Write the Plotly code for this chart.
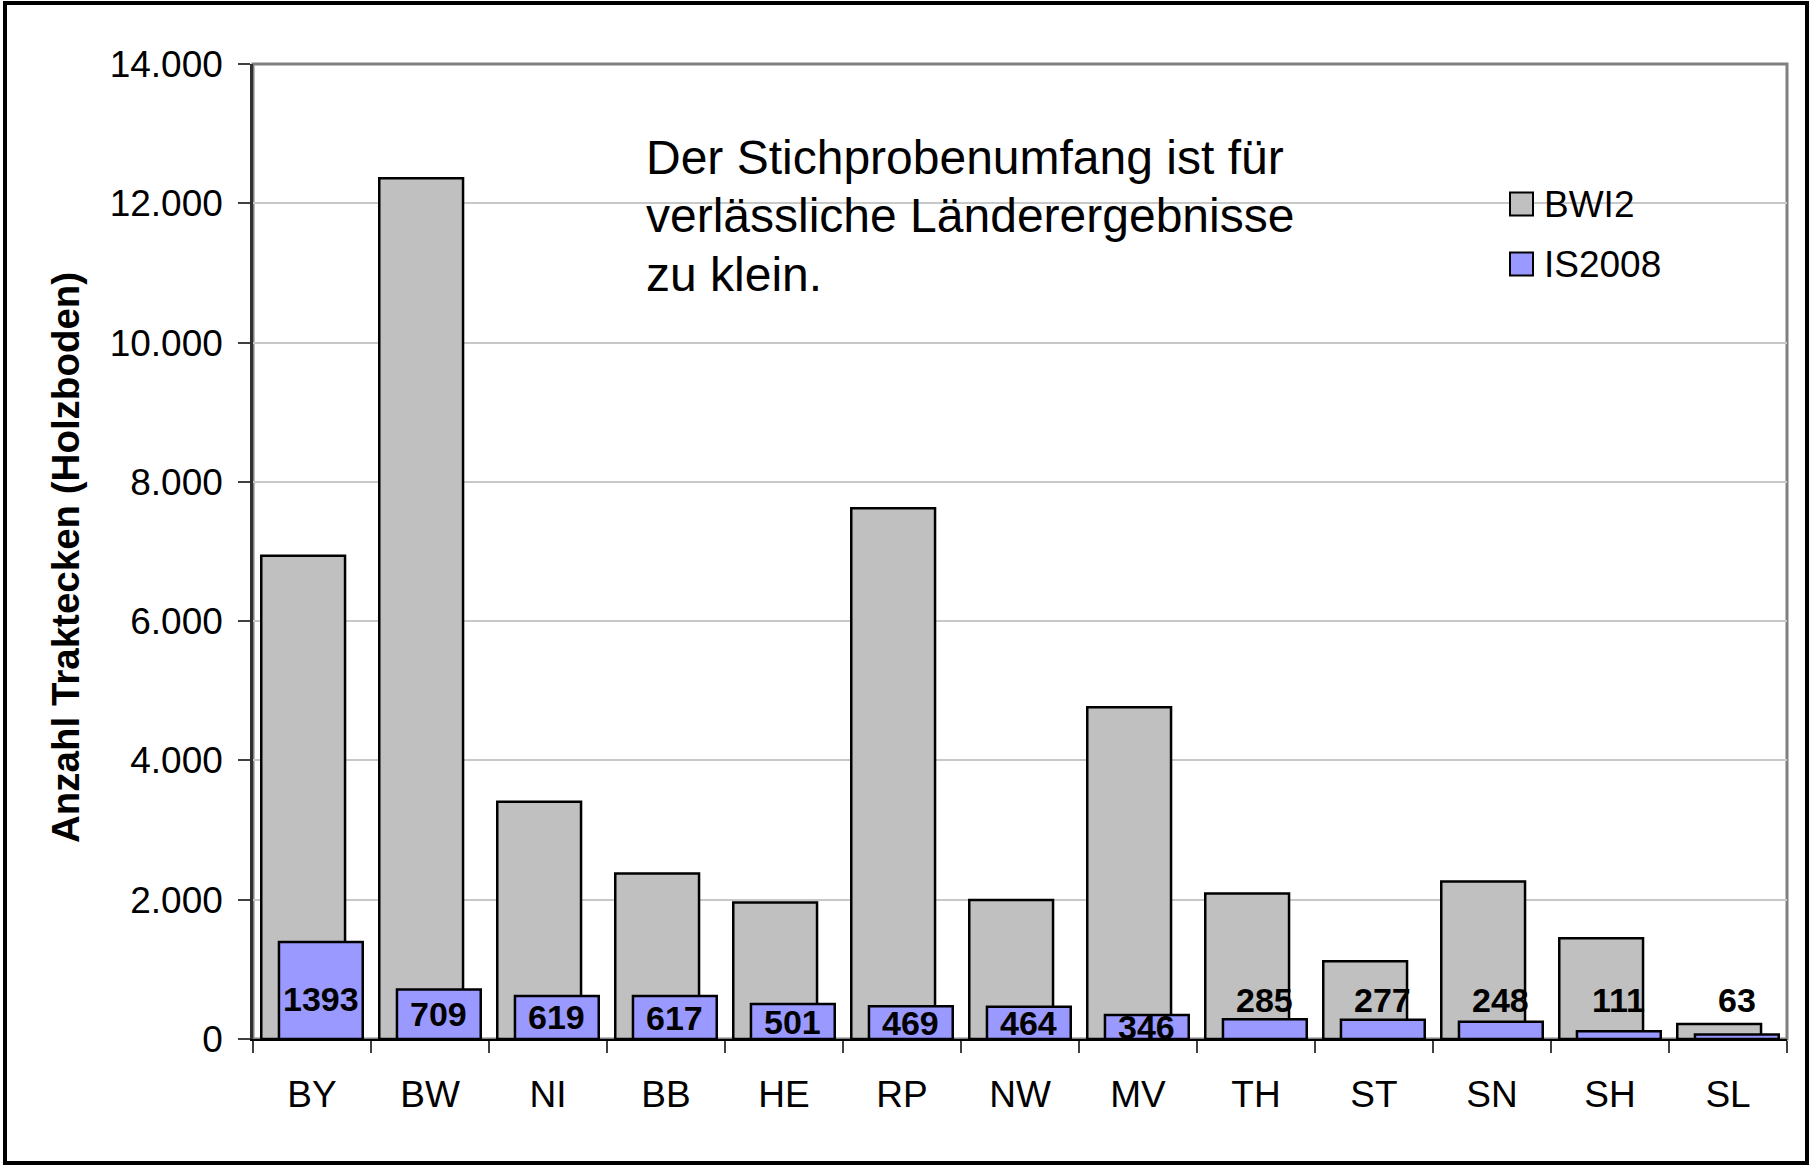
import plotly.graph_objects as go

categories = ["BY", "BW", "NI", "BB", "HE", "RP", "NW", "MV", "TH", "ST", "SN", "SH", "SL"]
bwi2 = [6940, 12360, 3405, 2375, 1960, 7620, 1995, 4765, 2090, 1115, 2260, 1445, 215]
is2008 = [1393, 709, 619, 617, 501, 469, 464, 346, 285, 277, 248, 111, 63]
series_names = ["BWI2", "IS2008"]
series_colors = ["#C0C0C0", "#9999FF"]
y_ticks = [0, 2000, 4000, 6000, 8000, 10000, 12000, 14000]
note_lines = ["Der Stichprobenumfang ist für", "verlässliche Länderergebnisse", "zu klein."]
y_title = "Anzahl Traktecken (Holzboden)"

FIG_W, FIG_H = 1812, 1165
# plot area in pixels
L, T, R, B = 253, 64, 1787, 1039
W, H = R - L, B - T
FONT = "Liberation Sans"


def px(x):
    return (x - L) / W


def py(y):
    return (B - y) / H


fig = go.Figure()
bar_w = 0.71
offsets = [-0.075 - bar_w / 2, 0.075 - bar_w / 2]
for name, vals, col, off in zip(series_names, [bwi2, is2008], series_colors, offsets):
    fig.add_trace(go.Bar(
        x=categories, y=vals, name=name, width=bar_w, offset=off,
        marker=dict(color=col, line=dict(color="black", width=2.5)),
        showlegend=False, hoverinfo="x+y",
    ))

annotations = []
# data labels for IS2008
for c, v in zip(categories, is2008):
    ylab = min(v / 2, 580) if v > 300 else 565
    annotations.append(dict(
        x=c, y=ylab, xref="x", yref="y", text=str(v), showarrow=False,
        xshift=0.075 * W / len(categories), yanchor="middle",
        font=dict(family=FONT, size=34, color="black", weight="bold"),
    ))

# note text, one annotation per line
for i, line in enumerate(note_lines):
    annotations.append(dict(
        x=px(644), y=py(158 + 58 * i), xref="paper", yref="paper", xanchor="left", yanchor="middle",
        text=line, showarrow=False, align="left",
        font=dict(family=FONT, size=48, color="black"),
    ))

# y axis title
annotations.append(dict(
    x=px(65), y=py(558), xref="paper", yref="paper", xanchor="center", yanchor="middle",
    text="<b>" + y_title + "</b>", textangle=-90, showarrow=False,
    font=dict(family=FONT, size=38.5, color="black"),
))

shapes = []
# white background boxes for note and legend (cover gridlines)
shapes.append(dict(type="rect", xref="paper", yref="paper", x0=px(628), x1=px(1340), y0=py(100), y1=py(310),
                   fillcolor="white", line=dict(width=0), layer="between"))
shapes.append(dict(type="rect", xref="paper", yref="paper", x0=px(1495), x1=px(1676), y0=py(165), y1=py(295),
                   fillcolor="white", line=dict(width=0), layer="between"))

# manual legend
leg_rows = [204, 264]
for name, col, yc in zip(series_names, series_colors, leg_rows):
    shapes.append(dict(type="rect", xref="paper", yref="paper", x0=px(1510), x1=px(1533),
                       y0=py(yc + 11.5), y1=py(yc - 11.5), fillcolor=col,
                       line=dict(color="black", width=2), layer="above"))
    annotations.append(dict(x=px(1542), y=py(yc), xref="paper", yref="paper", xanchor="left", yanchor="middle",
                            text=name, showarrow=False, font=dict(family=FONT, size=37, color="black")))

# plot area border (gray top/right)
shapes.append(dict(type="rect", xref="paper", yref="paper", x0=0, x1=1, y0=0, y1=1,
                   line=dict(color="#808080", width=3), layer="below"))
# outer frame
shapes.append(dict(type="rect", xref="paper", yref="paper", x0=px(5), x1=px(1807), y0=py(1163), y1=py(3),
                   line=dict(color="black", width=4), layer="above"))

fig.update_layout(
    width=FIG_W, height=FIG_H,
    margin=dict(l=L, r=FIG_W - R, t=T, b=FIG_H - B, autoexpand=False),
    paper_bgcolor="white", plot_bgcolor="white",
    barmode="overlay",
    separators=",.",
    font=dict(family=FONT, size=36, color="black"),
    annotations=annotations, shapes=shapes,
    showlegend=False,
)
fig.update_xaxes(
    type="category", tickson="boundaries", ticks="outside", ticklen=12, tickcolor="#404040", tickwidth=1.5,
    showline=True, linecolor="black", linewidth=2, showgrid=False,
    tickfont=dict(family=FONT, size=37, color="black"), ticklabelstandoff=22,
)
fig.update_yaxes(
    range=[0, 14000], tickvals=y_ticks, tickformat=",d",
    ticks="outside", ticklen=12, tickcolor="#404040", tickwidth=1.5,
    showline=True, linecolor="#303030", linewidth=2.5,
    showgrid=True, gridcolor="#C8C8C8", gridwidth=1.5, zeroline=False,
    tickfont=dict(family=FONT, size=37, color="black"), ticklabelstandoff=8,
)

fig.write_html("out.html", config={"displayModeBar": False},
               post_script="document.body.style.margin='0';document.body.style.overflow='hidden';")
